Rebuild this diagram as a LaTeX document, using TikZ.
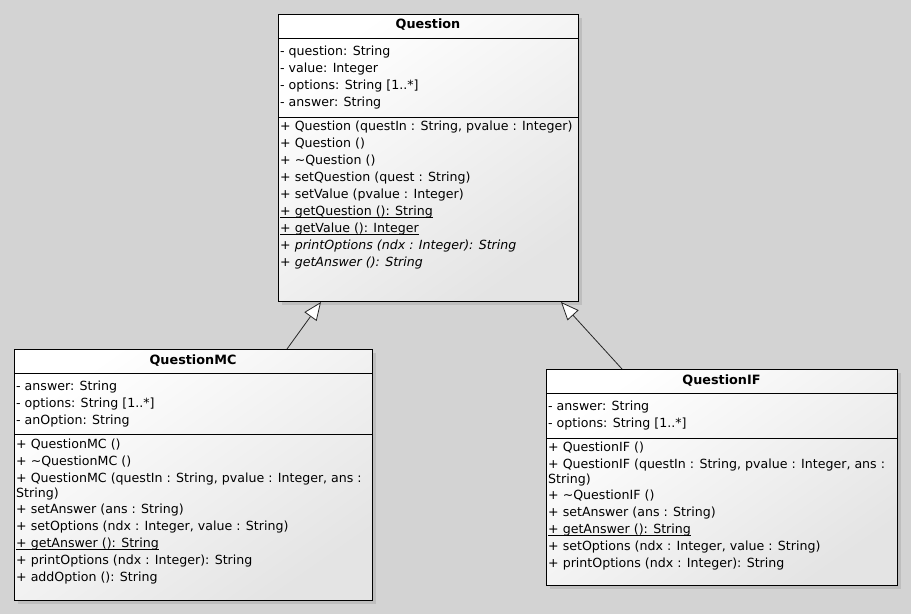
\documentclass[tikz,border=0pt]{standalone}
\usepackage{fontspec}
\setmainfont{DejaVu Sans}
\usetikzlibrary{arrows.meta,shadows}
\definecolor{canvas}{RGB}{211,211,211}
\definecolor{boxend}{RGB}{228,228,228}
% underline at a fixed depth below the baseline (static members)
\newcommand{\staticul}[1]{\setbox0\hbox{#1}\rlap{\rule[-2.4pt]{\wd0}{0.8pt}}\box0}

\begin{document}
\begin{tikzpicture}[x=1pt,y=-1pt,
  classbox/.style={draw=black, line width=1pt, anchor=north west, inner sep=0pt,
    top color=white, bottom color=boxend, shading angle=35,
    drop shadow={shadow xshift=3pt, shadow yshift=-3pt, opacity=0.25}},
  member/.style={anchor=base west, inner sep=0pt, font=\fontsize{12.6}{15}\selectfont},
  classname/.style={anchor=base, inner sep=0pt, font=\fontsize{12.8}{15}\selectfont\bfseries},
  compart/.style={line width=1pt},
  inherit/.style={draw=black!85, line width=0.8pt,
    -{Triangle[open, length=18pt, width=15pt, fill=white]}}]

% canvas
\fill[canvas] (0,0) rectangle (911,614);
\useasboundingbox (0,0) rectangle (911,614);

% ---------- Question ----------
\node[classbox, minimum width=300pt, minimum height=287pt] (q) at (278,14) {};
\draw[compart] ([yshift=-24pt]q.north west) -- ([yshift=-24pt]q.north east);
\draw[compart] ([yshift=-103pt]q.north west) -- ([yshift=-103pt]q.north east);
\node[classname] (q-t) at (428,28) {Question};
\node[member] (q-a1) at (280,55) {- question: String};
\node[member] (q-a2) at (280,72) {- value: Integer};
\node[member] (q-a3) at (280,89) {- options: String [1..*]};
\node[member] (q-a4) at (280,106) {- answer: String};
\node[member] (q-m1) at (280,130) {+ Question (questIn : String, pvalue : Integer)};
\node[member] (q-m2) at (280,147) {+ Question ()};
\node[member] (q-m3) at (280,164) {+ \textasciitilde Question ()};
\node[member] (q-m4) at (280,181) {+ setQuestion (quest : String)};
\node[member] (q-m5) at (280,198) {+ setValue (pvalue : Integer)};
\node[member] (q-m6) at (280,215) {\staticul{+ getQuestion (): String}};
\node[member] (q-m7) at (280,232) {\staticul{+ getValue (): Integer}};
\node[member] (q-m8) at (280,249) {\itshape + printOptions (ndx : Integer): String};
\node[member] (q-m9) at (280,266) {\itshape + getAnswer (): String};

% ---------- QuestionMC ----------
\node[classbox, minimum width=358pt, minimum height=251pt] (mc) at (14,349) {};
\draw[compart] ([yshift=-24pt]mc.north west) -- ([yshift=-24pt]mc.north east);
\draw[compart] ([yshift=-85pt]mc.north west) -- ([yshift=-85pt]mc.north east);
\node[classname] (mc-t) at (193,364) {QuestionMC};
\node[member] (mc-a1) at (16,390) {- answer: String};
\node[member] (mc-a2) at (16,407) {- options: String [1..*]};
\node[member] (mc-a3) at (16,424) {- anOption: String};
\node[member] (mc-m1) at (16,448) {+ QuestionMC ()};
\node[member] (mc-m2) at (16,465) {+ \textasciitilde QuestionMC ()};
\node[member] (mc-m3) at (16,482) {+ QuestionMC (questIn : String, pvalue : Integer, ans :};
\node[member] (mc-m3b) at (16,497) {String)};
\node[member] (mc-m4) at (16,513) {+ setAnswer (ans : String)};
\node[member] (mc-m5) at (16,530) {+ setOptions (ndx : Integer, value : String)};
\node[member] (mc-m6) at (16,547) {\staticul{+ getAnswer (): String}};
\node[member] (mc-m7) at (16,564) {+ printOptions (ndx : Integer): String};
\node[member] (mc-m8) at (16,581) {+ addOption (): String};

% ---------- QuestionIF ----------
\node[classbox, minimum width=351pt, minimum height=216pt] (if) at (546,369) {};
\draw[compart] ([yshift=-24pt]if.north west) -- ([yshift=-24pt]if.north east);
\draw[compart] ([yshift=-69pt]if.north west) -- ([yshift=-69pt]if.north east);
\node[classname] (if-t) at (721.5,384) {QuestionIF};
\node[member] (if-a1) at (548,410) {- answer: String};
\node[member] (if-a2) at (548,427) {- options: String [1..*]};
\node[member] (if-m1) at (548,451) {+ QuestionIF ()};
\node[member] (if-m2) at (548,468) {+ QuestionIF (questIn : String, pvalue : Integer, ans :};
\node[member] (if-m2b) at (548,483) {String)};
\node[member] (if-m3) at (548,499) {+ \textasciitilde QuestionIF ()};
\node[member] (if-m4) at (548,516) {+ setAnswer (ans : String)};
\node[member] (if-m5) at (548,533) {\staticul{+ getAnswer (): String}};
\node[member] (if-m6) at (548,550) {+ setOptions (ndx : Integer, value : String)};
\node[member] (if-m7) at (548,567) {+ printOptions (ndx : Integer): String};

% ---------- generalisations ----------
\draw[inherit] ([xshift=273pt]mc.north west) -- ([xshift=43pt]q.south west);
\draw[inherit] ([xshift=76pt]if.north west) -- ([xshift=283pt]q.south west);

\end{tikzpicture}
\end{document}
